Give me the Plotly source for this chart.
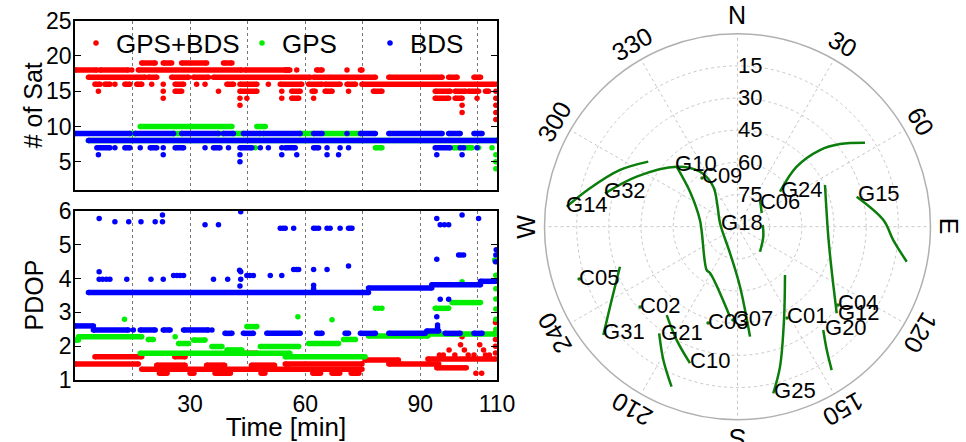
import math
import plotly.graph_objects as go

W, H = 966, 442
FONT = "Liberation Sans, Arial, Helvetica, sans-serif"
RED, GREEN, BLUE = "#ff0000", "#00ee00", "#0000ff"
TRACK = "#0b7d0b"

# ===================== Number of satellites (time in minutes) =====================
# runs: (t_start, t_end, value) where the value is held; pts: (t, value) isolated epochs
SAT_BOTH_RUNS = [
    (0, 5.7, 18), (6.5, 13.9, 18), (16.5, 43.5, 18), (44.3, 56, 18),
    (54.8, 55.7, 18), (63, 64.4, 18), (74.4, 74.8, 18),
    (3.5, 18.3, 17), (19.1, 21.3, 17), (25.2, 29.6, 17), (30.9, 34.8, 17), (36.1, 61.3, 17),
    (62.2, 78.3, 17), (81.8, 95.7, 17), (97.4, 99.6, 17), (104, 105.7, 17),
    (17.4, 20.9, 19), (23, 25.2, 19), (27.8, 34.3, 19), (38.7, 40.9, 19),
    (5.2, 6.5, 16), (7.8, 9.1, 16), (13, 14.3, 16), (16.1, 17.4, 16), (26.1, 28.3, 16),
    (39.6, 41.3, 16), (43, 47.4, 16), (53.5, 59.1, 16), (60.9, 64.4, 16), (65.2, 69.1, 16),
    (70.9, 73.1, 16), (74.8, 109.1, 16),
    (26.1, 27.8, 15), (43, 47.4, 15), (56.5, 58.7, 15), (61.8, 62.6, 15), (65.2, 67, 15),
    (77.8, 80, 15), (93.9, 97.8, 15), (99.1, 101.8, 15), (102.6, 105.2, 15), (107, 107.8, 15),
    (56.5, 58.3, 14), (93.9, 97.4, 14), (99.1, 100.9, 14),
]
SAT_BOTH_PTS = [
    (14.8, 18), (57.8, 18), (70.9, 18),
    (10.4, 16), (20, 16), (23, 16), (31.7, 16), (33.9, 16), (50.4, 16),
    (6.1, 15), (23, 15), (37.4, 15), (53.9, 15), (71.3, 15),
    (23, 14), (43, 14), (44.8, 14), (53.9, 14), (62.2, 14), (104.8, 14),
    (43, 13), (100.9, 13), (100.9, 12),
    (109.7, 16), (109.7, 15), (109.7, 14), (109.7, 13), (109.7, 12), (109.7, 11),
]
SAT_GPS_RUNS = [
    (17, 40.9, 10), (47.4, 49.6, 10),
    (14.3, 15.7, 9), (25.7, 27.8, 9), (37.4, 38.7, 9), (41.3, 43.9, 9), (48.3, 49.1, 9),
    (58.7, 62.2, 9), (64.8, 70.9, 9), (71.3, 74.4, 9),
    (3.5, 110, 8), (78.3, 80, 7), (98.7, 103.5, 7),
]
SAT_GPS_PTS = [(47, 7), (105.2, 7), (108.7, 7), (109.7, 6), (109.7, 5), (109.7, 4)]
SAT_BDS_RUNS = [
    (0, 14.3, 9), (15.7, 25.7, 9), (27.8, 37.4, 9), (38.7, 41.3, 9), (43.9, 48.3, 9),
    (49.1, 58.7, 9), (62.2, 64.4, 9), (74.4, 78.3, 9), (81.8, 95.7, 9), (97.4, 100.4, 9),
    (104, 106.1, 9),
    (3.5, 110, 8),
    (5.7, 9.1, 7), (13, 14.3, 7), (19.6, 21.3, 7), (26.1, 28.3, 7), (36.1, 37.8, 7),
    (43, 46.1, 7), (54.8, 57.4, 7), (62.2, 63.5, 7), (93.9, 97.8, 7),
]
SAT_BDS_PTS = [
    (70.9, 9), (10.4, 7), (17, 7), (23, 7), (33.9, 7), (40, 7), (48.3, 7), (50.4, 7), (53.9, 7),
    (65.7, 7), (69.1, 7), (71.3, 7), (100.4, 7), (101.3, 7), (104.8, 7),
    (6.1, 6), (23, 6), (43, 6), (53.9, 6), (57.8, 6), (65.7, 6), (68.7, 6), (94.3, 6),
    (100.9, 6), (43, 5),
]

# ===================== PDOP =====================
PDOP_BOTH_RUNS = [
    (0, 16.5, 1.47), (5.2, 17.4, 1.69), (17.4, 56, 1.32), (21.3, 28.7, 1.44), (34.3, 39, 1.44),
    (46, 52, 1.44), (26, 28.7, 1.69), (43, 47.4, 1.79),
    (22, 24, 1.2), (30, 31, 1.2), (36.5, 40.5, 1.2), (48.5, 49.5, 1.2),
    (54.8, 74.8, 1.47), (54.8, 74.8, 1.32), (62, 64, 1.2), (67, 69, 1.2), (72, 74, 1.2),
    (75.6, 84.3, 1.59), (81.8, 94.8, 1.47), (92, 109.6, 1.62), (94.3, 102, 1.36),
]
PDOP_BOTH_PTS = [
    (95, 1.74), (96, 1.74), (97.5, 1.89), (99, 1.74), (100.5, 2.04), (100.9, 2.28),
    (101.5, 1.89), (102.5, 1.74), (104, 1.74), (105.5, 2.04), (106.5, 1.89), (107, 1.74),
    (108, 1.74), (104.5, 1.2), (106, 1.2),
    (109.6, 1.8), (109.6, 2.0), (109.6, 2.2), (109.6, 2.4), (109.6, 2.7),
]
PDOP_GPS_RUNS = [
    (0, 0.9, 2.18), (0.9, 17.4, 2.28), (19.1, 20.4, 2.20), (17, 56, 1.79), (54.8, 75.6, 1.69),
    (76.5, 92, 2.30), (92, 109.6, 2.36),
    (27, 29.6, 2.08), (30.9, 33.9, 2.18), (35.7, 38.3, 1.99), (39.6, 43.5, 1.89),
    (44.8, 47.4, 2.58), (48.3, 58.3, 1.99), (60.9, 68.7, 2.08), (70, 73.1, 2.20),
    (93.9, 97.4, 3.12), (98.3, 105.7, 3.29),
]
PDOP_GPS_PTS = [
    (12.9, 2.80), (26.1, 2.28), (58.1, 2.87), (67, 2.78), (78.3, 3.12), (79.1, 3.12),
    (80, 3.12), (100.9, 3.91), (109.4, 4.55),
    (109.7, 2.5), (109.7, 2.8), (109.7, 3.1), (109.7, 3.4), (109.7, 3.7), (109.7, 4.1),
]
PDOP_BDS_RUNS = [
    (3.5, 76.5, 3.59), (76.5, 93, 3.72), (93, 105.7, 3.82), (105.7, 109.6, 3.92),
    (0, 4.8, 2.60), (4.8, 13.9, 2.48), (17, 20.9, 2.48), (23, 24.8, 2.48), (28.3, 34.8, 2.48),
    (39.1, 40.9, 2.38), (43.9, 46.5, 2.38), (50, 58.7, 2.38), (63, 64.4, 2.38),
    (70.4, 71.3, 2.38), (74.4, 78.3, 2.38), (81.8, 91.3, 2.38), (91.7, 94.8, 2.45),
    (96.5, 100.4, 2.38), (104, 106.1, 2.38),
]
PDOP_BDS_PTS = [
    (6.3, 5.78), (94.3, 5.78), (105.2, 5.78), (10.4, 5.68), (14.0, 5.68), (17.2, 5.68),
    (20.9, 5.68), (22.8, 5.68), (22.8, 5.88), (100.9, 5.88), (43.2, 5.98), (33.9, 5.59),
    (37.4, 5.59), (95.2, 5.59), (96.3, 5.59), (97.4, 5.59),
    (53.5, 5.49), (54.2, 5.49), (54.8, 5.49), (57, 5.49), (62.2, 5.49), (62.8, 5.49),
    (63.5, 5.49), (65.7, 5.49), (66.5, 5.49), (69.1, 5.49), (71.3, 5.49), (71.8, 5.49),
    (72.2, 5.49),
    (6.3, 4.20), (43.2, 4.20), (42.9, 4.25), (43, 3.78),
    (6.3, 3.98), (7.2, 3.98), (8.2, 3.98), (9.1, 3.98), (13.5, 3.98), (19.8, 3.98), (23, 3.98),
    (36.1, 3.98), (39.8, 3.98), (43.2, 3.98),
    (25.7, 4.09), (26.6, 4.09), (27.4, 4.09), (28.3, 4.09), (44.8, 4.09), (45.6, 4.09),
    (46.5, 4.09), (50.9, 4.09), (53.9, 4.09),
    (57, 4.27), (57.7, 4.27), (58.3, 4.27), (62.2, 4.27), (65.7, 4.27), (71.3, 4.37),
    (62.2, 3.7), (62.2, 3.8),
    (94.3, 4.57), (100, 4.70), (100.6, 4.70), (101.3, 4.70),
    (95.2, 3.39), (97.4, 3.39), (94.3, 2.87), (94.5, 2.63), (94.5, 2.55), (15.2, 2.48), (35.7, 2.48),
    (109.6, 4.5), (109.7, 4.7), (109.8, 4.85),
]

TIME_TICKS = [15, 30, 45, 60, 75, 90, 105, 110]
TIME_TICK_TEXT = ["", "30", "", "60", "", "90", "", "110"]
SAT_TICKS = [5, 10, 15, 20, 25]
PDOP_TICKS = [1, 2, 3, 4, 5, 6]

# ===================== Sky plot: azimuth [deg], elevation [deg] =====================
TRACKS = {
    "G14": ([276.7, 284.6, 295.8, 306.1], [9.8, 18.9, 29.2, 38.5]),
    "G32": ([284.1, 296.4, 314.6, 325.7, 328.8, 317.1, 281.0, 195.9, 177.6, 173.5],
            [26.3, 37.5, 50.2, 59.0, 68.2, 76.2, 81.7, 77.2, 62.0, 38.4]),
    "G10": ([314.6, 306.4, 280.1, 215.4, 210.7, 184.8], [50.2, 62.5, 72.2, 65.2, 64.9, 47.9]),
    "G18": ([86.1, 111.2, 138.0], [78.2, 77.1, 74.3]),
    "C06": ([40.1, 60.5], [73.7, 77.0]),
    "G24": ([50.5, 44.6, 47.1, 51.1, 56.6], [64.3, 50.7, 37.5, 28.6, 18.8]),
    "G12": ([64.5, 96.3, 114.7, 131.1], [44.8, 47.4, 41.7, 28.6]),
    "G15": ([75.9, 87.4, 94.9, 101.7], [32.7, 21.9, 17.1, 9.4]),
    "G20": ([140.3, 144.1, 146.7], [27.4, 19.0, 10.0]),
    "G25": ([135.5, 153.5, 163.1, 167.9], [58.4, 41.4, 21.8, 10.5]),
    "G21": ([216.3, 209.1, 202.4], [28.3, 18.9, 9.3]),
    "G31": ([251.2, 239.8, 231.1], [32.1, 22.1, 9.6]),
    "C10": ([218.7, 208.2, 199.2], [37.2, 30.0, 22.6]),
}
LABEL_NAMES = ["G14", "G32", "G10", "C09", "G24", "C06", "G15", "G18", "C05", "C02",
               "G31", "G21", "C10", "C03", "C07", "C01", "C04", "G12", "G20", "G25"]
LABEL_AZ = [276.6, 284.2, 314.2, 323.9, 50.6, 43.5, 75.7, 275.9, 251.7, 230.5,
            231.4, 215.2, 199.2, 197.0, 182.8, 151.5, 127.9, 131.0, 139.7, 167.6]
LABEL_EL = [9.5, 25.8, 49.4, 61.9, 63.8, 74.8, 32.0, 82.3, 12.2, 31.1,
            9.8, 28.2, 22.7, 43.0, 46.4, 41.6, 30.6, 27.9, 26.9, 10.6]
DOT_NAMES = ["C09", "C05", "C02", "C03", "C07", "C01", "C04"]
ELEV_RINGS = [15, 30, 45, 60, 75]
AZ_TICKS = [0, 30, 60, 90, 120, 150, 180, 210, 240, 270, 300, 330]
AZ_TEXT = ["N", "30", "60", "E", "120", "150", "S", "210", "240", "W", "300", "330"]

# ===================== Figure =====================
def runs_xy(runs):
    xs, ys = [], []
    for t0, t1, v in runs:
        xs += [t0, t1, None]
        ys += [v, v, None]
    return xs, ys

fig = go.Figure()
panels = [
    ("x", "y", [(SAT_BOTH_RUNS, SAT_BOTH_PTS, RED, "GPS+BDS", "legend"),
                (SAT_GPS_RUNS, SAT_GPS_PTS, GREEN, "GPS", "legend2"),
                (SAT_BDS_RUNS, SAT_BDS_PTS, BLUE, "BDS", "legend3")]),
    ("x2", "y2", [(PDOP_BOTH_RUNS, PDOP_BOTH_PTS, RED, "GPS+BDS", None),
                  (PDOP_GPS_RUNS, PDOP_GPS_PTS, GREEN, "GPS", None),
                  (PDOP_BDS_RUNS, PDOP_BDS_PTS, BLUE, "BDS", None)]),
]
MS = 5.5
for xa, ya, series in panels:
    for runs, pts, col, name, leg in series:
        rx, ry = runs_xy(runs)
        fig.add_trace(go.Scatter(x=rx, y=ry, xaxis=xa, yaxis=ya, mode="lines+markers",
                                 line=dict(color=col, width=MS), marker=dict(color=col, size=MS),
                                 showlegend=False, hoverinfo="skip"))
        fig.add_trace(go.Scatter(x=[p[0] for p in pts], y=[p[1] for p in pts], xaxis=xa, yaxis=ya,
                                 mode="markers", marker=dict(color=col, size=MS), name=name,
                                 showlegend=leg is not None, legend=leg or "legend"))

for name, (az, el) in TRACKS.items():
    fig.add_trace(go.Scatterpolar(theta=az, r=[90 - e for e in el], mode="lines",
                                  line=dict(color=TRACK, width=2.5, shape="spline"),
                                  showlegend=False, hoverinfo="skip", subplot="polar"))
fig.add_trace(go.Scatterpolar(theta=[LABEL_AZ[LABEL_NAMES.index(n)] for n in DOT_NAMES],
                              r=[90 - LABEL_EL[LABEL_NAMES.index(n)] for n in DOT_NAMES],
                              mode="markers", marker=dict(color=TRACK, size=3.5),
                              showlegend=False, hoverinfo="skip", subplot="polar"))
fig.add_trace(go.Scatterpolar(theta=LABEL_AZ, r=[90 - e for e in LABEL_EL], mode="text",
                              text=LABEL_NAMES, textposition="middle right",
                              textfont=dict(family=FONT, size=22, color="black"),
                              showlegend=False, hoverinfo="skip", subplot="polar", cliponaxis=False))

X_DOM = [75 / W, 497 / W]
Y1_DOM = [(H - 190) / H, (H - 20.7) / H]
Y2_DOM = [(H - 380) / H, (H - 211) / H]
POL_X = [544.5 / W, 930.5 / W]
POL_Y = [22.3 / H, 408.3 / H]

axis_common = dict(showline=True, linecolor="black", linewidth=1.5, zeroline=False,
                   automargin=False, tickfont=dict(family=FONT, size=23, color="black"))
xcommon = dict(axis_common, range=[0, 110], domain=X_DOM, tickvals=TIME_TICKS,
               ticktext=TIME_TICK_TEXT, showgrid=True, gridcolor="#777777", griddash="dot",
               gridwidth=1, ticks="", mirror=True)
ycommon = dict(axis_common, showgrid=False, ticks="inside", ticklen=6, tickcolor="black",
               tickwidth=1, mirror="ticks", ticklabelstandoff=-3)

leg_common = dict(orientation="h", yanchor="middle", y=1 - 43 / H, xanchor="left",
                  bgcolor="rgba(0,0,0,0)", font=dict(family=FONT, size=26, color="black"),
                  itemwidth=30, tracegroupgap=0)

annotations = []
# y-axis titles, placed beside the tick labels as in the reference
for text, dom in (("# of Sat", Y1_DOM), ("PDOP", Y2_DOM)):
    annotations.append(dict(x=33 / W, y=(dom[0] + dom[1]) / 2, xref="paper", yref="paper",
                            text=text, showarrow=False, textangle=-90, xanchor="center",
                            yanchor="middle", font=dict(family=FONT, size=25, color="black")))

# angular labels, rotated tangentially like the reference
cx = (POL_X[0] + POL_X[1]) / 2 * W
cy = (1 - (POL_Y[0] + POL_Y[1]) / 2) * H
R = (POL_X[1] - POL_X[0]) * W / 2
for a, t in zip(AZ_TICKS, AZ_TEXT):
    rr = R * 1.095
    px = cx + rr * math.sin(math.radians(a))
    py = cy - rr * math.cos(math.radians(a))
    ang = a if a <= 180 else a - 360
    annotations.append(dict(x=px / W, y=1 - py / H, xref="paper", yref="paper", text=t,
                            showarrow=False, textangle=ang, xanchor="center", yanchor="middle",
                            font=dict(family=FONT, size=25, color="black")))

fig.update_layout(
    width=W, height=H, autosize=False,
    margin=dict(l=0, r=0, t=0, b=0, pad=0, autoexpand=False),
    paper_bgcolor="white", plot_bgcolor="white",
    xaxis=dict(xcommon, anchor="y", showticklabels=False),
    yaxis=dict(ycommon, domain=Y1_DOM, range=[1, 25], tickvals=SAT_TICKS, anchor="x"),
    xaxis2=dict(xcommon, anchor="y2", ticklabelstandoff=3,
                title=dict(text="Time [min]", font=dict(family=FONT, size=26, color="black"), standoff=0)),
    yaxis2=dict(ycommon, domain=Y2_DOM, range=[1, 6], tickvals=PDOP_TICKS, anchor="x2"),
    legend=dict(leg_common, x=(96 - 20) / W),
    legend2=dict(leg_common, x=(262 - 20) / W),
    legend3=dict(leg_common, x=(390 - 20) / W),
    polar=dict(
        domain=dict(x=POL_X, y=POL_Y), bgcolor="white",
        angularaxis=dict(rotation=90, direction="clockwise", tickvals=AZ_TICKS,
                         showticklabels=False, ticks="", showline=True, linecolor="#b0b0b0",
                         linewidth=1.5, showgrid=True, gridcolor="#c8c8c8", griddash="dot"),
        radialaxis=dict(range=[0, 90], tickvals=[90 - e for e in ELEV_RINGS],
                        ticktext=[str(e) for e in ELEV_RINGS], angle=90, side="clockwise",
                        tickangle=90, showline=False, ticks="", showgrid=True,
                        gridcolor="#c8c8c8", griddash="dot",
                        tickfont=dict(family=FONT, size=22, color="black")),
    ),
    annotations=annotations,
)
fig.write_html("out.html")
